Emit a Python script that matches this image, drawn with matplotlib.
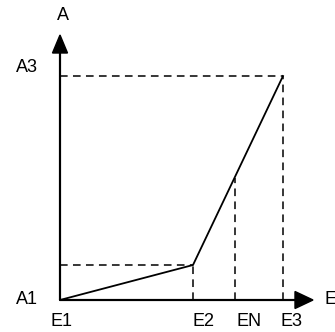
import matplotlib.pyplot as plt

# break points of the curve (x in E units, y in A units)
e_vals = [0, 133, 175, 223]          # E1, E2, EN, E3
a_vals = [0, 35, 122, 224]           # A1, A2, AN, A3
e_names = ['E1', 'E2', 'EN', 'E3']

plt.rcParams['font.family'] = ['Liberation Sans', 'DejaVu Sans']

fig = plt.figure(figsize=(3.35, 3.32), dpi=100)
ax = fig.add_axes([0, 0, 1, 1])
ax.set_xlim(-60, 275)
ax.set_ylim(-32, 300)
ax.axis('off')

# axes with arrow heads
ax.arrow(0, 0, 0, 265, width=0.8, head_width=15, head_length=18,
         length_includes_head=True, color='black')
ax.arrow(0, 0, 253, 0, width=0.8, head_width=17, head_length=18,
         length_includes_head=True, color='black')

# the curve: E1 -> E2 -> E3
ax.plot([e_vals[0], e_vals[1], e_vals[3]], [a_vals[0], a_vals[1], a_vals[3]],
        color='black', lw=1.3, solid_joinstyle='miter')

dash = dict(color='black', lw=1.1, linestyle=(0, (5, 3.5)))
ax.plot([0, e_vals[1]], [a_vals[1], a_vals[1]], **dash)
ax.plot([e_vals[1], e_vals[1]], [0, a_vals[1]], **dash)
ax.plot([e_vals[2], e_vals[2]], [0, a_vals[2]], **dash)
ax.plot([e_vals[3], e_vals[3]], [0, a_vals[3]], **dash)
ax.plot([0, e_vals[3]], [a_vals[3], a_vals[3]], **dash)

fs = 13
offs = [2, 10, 14, 8]
for e, name, o in zip(e_vals, e_names, offs):
    ax.text(e + o, -21, name, ha='center', va='center', fontsize=fs)
ax.text(-33, 1, 'A1', ha='center', va='center', fontsize=fs)
ax.text(-33, 232, 'A3', ha='center', va='center', fontsize=fs)
ax.text(3, 285, 'A', ha='center', va='center', fontsize=fs)
ax.text(265, 0, 'E', ha='left', va='center', fontsize=fs)

fig.savefig('out.png', dpi=100)
